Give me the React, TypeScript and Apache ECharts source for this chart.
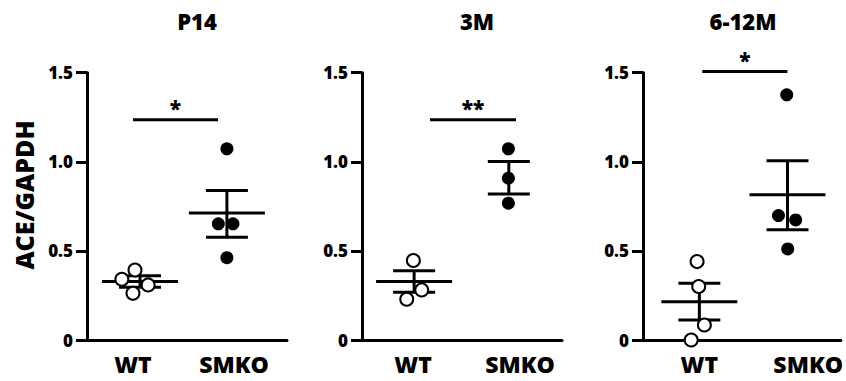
import { useEffect, useRef } from 'react';
import * as echarts from 'echarts';

const panelTitles = ['P14', '3M', '6-12M'];
const groupLabels = ['WT', 'SMKO'];
const yAxisName = 'ACE/GAPDH';
const yMin = 0;
const yMax = 1.5;
const yInterval = 0.5;

// P14
const p14WT = [0.341, 0.393, 0.309, 0.262];
const p14WTPos = [0.89, 1.02, 1.15, 1.0];
const p14KO = [1.073, 0.652, 0.652, 0.462];
const p14KOPos = [1.93, 1.845, 1.99, 1.93];
// [center, mean, lower SEM, upper SEM]
const p14Summary = [
  [1.07, 0.328, 0.296, 0.36],
  [1.93, 0.712, 0.577, 0.839],
];
const p14Sig = [1.0, 1.842, 1.236];
const p14Stars = '*';
const p14XRange = [0.545, 2.525];

// 3M
const m3WT = [0.446, 0.281, 0.229];
const m3WTPos = [1.003, 1.081, 0.941];
const m3KO = [1.073, 0.908, 0.768];
const m3KOPos = [1.891, 1.891, 1.891];
const m3Summary = [
  [1.01, 0.328, 0.268, 0.389],
  [1.895, null, 0.82, 1.002],
];
const m3Sig = [1.159, 1.962, 1.236];
const m3Stars = '**';
const m3XRange = [0.523, 2.392];

// 6-12M
const m612WT = [0.44, 0.3, 0.084, 0.0];
const m612WTPos = [0.979, 0.994, 1.046, 0.925];
const m612KO = [1.376, 0.698, 0.674, 0.511];
const m612KOPos = [1.803, 1.727, 1.885, 1.812];
const m612Summary = [
  [1.0, 0.215, 0.112, 0.318],
  [1.81, 0.815, 0.618, 1.006],
];
const m612Sig = [1.027, 1.809, 1.507];
const m612Stars = '*';
const m612XRange = [0.482, 2.3];

const FONT = '"Open Sans", "DejaVu Sans", sans-serif';
const WEIGHT = 800;

const panels = [
  { title: panelTitles[0], wt: p14WT, wtPos: p14WTPos, ko: p14KO, koPos: p14KOPos, summary: p14Summary, sig: p14Sig, stars: p14Stars, xr: p14XRange },
  { title: panelTitles[1], wt: m3WT, wtPos: m3WTPos, ko: m3KO, koPos: m3KOPos, summary: m3Summary, sig: m3Sig, stars: m3Stars, xr: m3XRange },
  { title: panelTitles[2], wt: m612WT, wtPos: m612WTPos, ko: m612KO, koPos: m612KOPos, summary: m612Summary, sig: m612Sig, stars: m612Stars, xr: m612XRange },
];

const gridLefts = [87, 362, 643];
const titleCenters = [192, 472, 738];

export default function App() {
  const ref = useRef<HTMLDivElement>(null);
  useEffect(() => {
    document.body.style.margin = '0';
    if (!ref.current) return;
    const chart = echarts.init(ref.current, null, { renderer: 'svg' });

    const grid = panels.map((_, i) => ({ left: gridLefts[i], width: 200, top: 72.7, bottom: 41 }));
    const xAxis = panels.map((p, i) => ({
      type: 'value', gridIndex: i, min: p.xr[0], max: p.xr[1],
      axisLine: { show: true, lineStyle: { color: '#000', width: 3 } },
      axisTick: { show: false },
      splitLine: { show: false },
      axisLabel: {
        customValues: [1, 2],
        formatter: (v: number) => (Math.abs(v - 1) < 0.01 ? groupLabels[0] : groupLabels[1]),
        color: '#000', fontWeight: WEIGHT, fontFamily: FONT, fontSize: 23, margin: 12,
      },
    }));
    const yAxis = panels.map((_, i) => ({
      type: 'value', gridIndex: i, min: yMin, max: yMax, interval: yInterval,
      axisLine: { show: true, lineStyle: { color: '#000', width: 3 } },
      axisTick: { show: true, inside: false, length: 11, lineStyle: { color: '#000', width: 3 } },
      splitLine: { show: false },
      axisLabel: {
        formatter: (v: number) => (v === 0 ? '0' : v.toFixed(1)),
        color: '#000', fontWeight: WEIGHT, fontFamily: FONT, fontSize: 17, margin: 14,
      },
    }));

    const series: any[] = [];
    panels.forEach((p, i) => {
      const summary = p.summary;
      series.push({
        type: 'custom', xAxisIndex: i, yAxisIndex: i, z: 2, clip: false,
        data: summary.map((s) => [s[0], s[3]]),
        renderItem: (params: any, api: any) => {
          const s = summary[params.dataIndex];
          const lo = api.coord([s[0], s[2]]);
          const hi = api.coord([s[0], s[3]]);
          const st = { stroke: '#000', lineWidth: 3 };
          const children: any[] = [
            { type: 'line', shape: { x1: lo[0], y1: lo[1], x2: hi[0], y2: hi[1] }, style: st },
            { type: 'line', shape: { x1: lo[0] - 21, y1: lo[1], x2: lo[0] + 21, y2: lo[1] }, style: st },
            { type: 'line', shape: { x1: hi[0] - 21, y1: hi[1], x2: hi[0] + 21, y2: hi[1] }, style: st },
          ];
          if (s[1] !== null) {
            const m = api.coord([s[0], s[1]]);
            children.push({ type: 'line', shape: { x1: m[0] - 38, y1: m[1], x2: m[0] + 38, y2: m[1] }, style: st });
          }
          return { type: 'group', children };
        },
      });
      series.push({
        type: 'custom', xAxisIndex: i, yAxisIndex: i, z: 2, clip: false,
        data: [[p.sig[0], p.sig[2]]],
        renderItem: (params: any, api: any) => {
          const a = api.coord([p.sig[0], p.sig[2]]);
          const b = api.coord([p.sig[1], p.sig[2]]);
          return {
            type: 'group',
            children: [
              { type: 'line', shape: { x1: a[0], y1: a[1], x2: b[0], y2: b[1] }, style: { stroke: '#000', lineWidth: 3 } },
              {
                type: 'text', x: (a[0] + b[0]) / 2, y: a[1] - 1,
                style: { text: p.stars, fill: '#000', font: `${WEIGHT} 21px ${FONT}`, align: 'center', verticalAlign: 'bottom' },
              },
            ],
          };
        },
      });
      series.push({
        type: 'scatter', xAxisIndex: i, yAxisIndex: i, z: 5, clip: false,
        symbol: 'circle', symbolSize: 13,
        itemStyle: { color: '#fff', borderColor: '#000', borderWidth: 2, opacity: 1 },
        data: p.wt.map((v, k) => [p.wtPos[k], v]),
      });
      series.push({
        type: 'scatter', xAxisIndex: i, yAxisIndex: i, z: 5, clip: false,
        symbol: 'circle', symbolSize: 13,
        itemStyle: { color: '#000', opacity: 1 },
        data: p.ko.map((v, k) => [p.koPos[k], v]),
      });
    });

    chart.setOption({
      animation: false,
      backgroundColor: '#fff',
      title: panels.map((p, i) => ({
        text: p.title, left: titleCenters[i], top: 5, textAlign: 'center',
        textStyle: { fontSize: 22, fontWeight: WEIGHT, fontFamily: FONT, color: '#000' },
      })),
      graphic: [
        {
          type: 'text', x: 24, y: 195, rotation: Math.PI / 2,
          style: { text: yAxisName, fill: '#000', font: `${WEIGHT} 25px ${FONT}`, align: 'center', verticalAlign: 'middle' },
        },
      ],
      grid, xAxis, yAxis, series,
    });
    return () => chart.dispose();
  }, []);
  return <div ref={ref} style={{ width: 846, height: 381 }} />;
}
